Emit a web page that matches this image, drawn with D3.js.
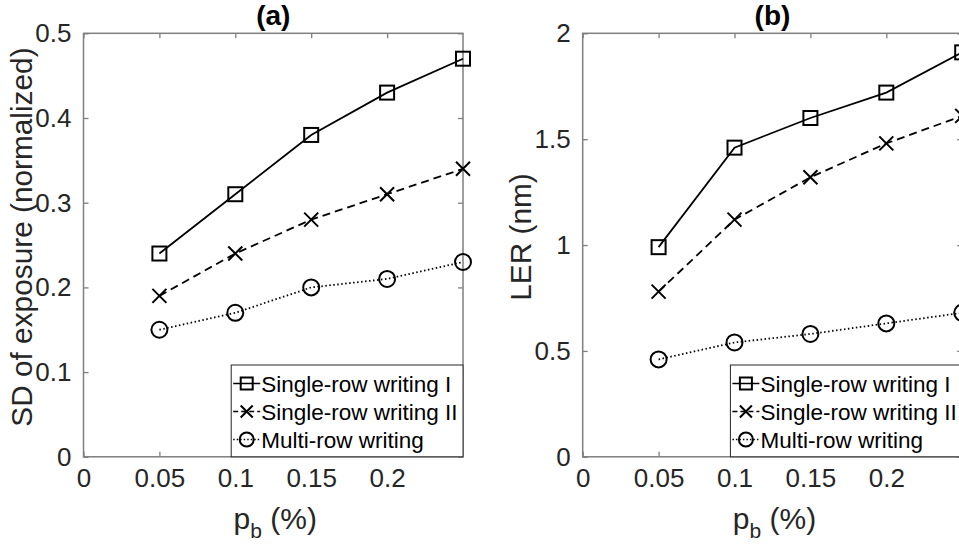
<!DOCTYPE html>
<html><head><meta charset="utf-8">
<script src="https://cdn.jsdelivr.net/npm/d3@7"></script>
<style>body{margin:0;background:#fff}svg{display:block}text{font-family:"Liberation Sans",Arial,sans-serif}</style>
</head><body>
<svg id="c" width="959" height="546"></svg>
<script>
const pb = [0.05, 0.1, 0.15, 0.2, 0.25];
const xTicks = [0, 0.05, 0.1, 0.15, 0.2];
const seriesNames = ["Single-row writing I", "Single-row writing II", "Multi-row writing"];
const sdSingleI = [0.24, 0.31, 0.38, 0.43, 0.47];
const sdSingleII = [0.19, 0.24, 0.28, 0.31, 0.34];
const sdMulti = [0.15, 0.17, 0.20, 0.21, 0.23];
const sdTicks = [0, 0.1, 0.2, 0.3, 0.4, 0.5];
const lerSingleI = [0.99, 1.46, 1.60, 1.72, 1.91];
const lerSingleII = [0.78, 1.12, 1.32, 1.48, 1.61];
const lerMulti = [0.46, 0.54, 0.58, 0.63, 0.68];
const lerTicks = [0, 0.5, 1, 1.5, 2];

const svg = d3.select("#c");
const styles = [
  {dash: null, marker: "square"},
  {dash: "8,5", marker: "x"},
  {dash: "1.5,2.5", marker: "circle"}
];
const axColor = "#7f7f7f", txtColor = "#262626";

function drawMarker(g, type, x, y, s) {
  if (type === "square") {
    g.append("rect").attr("x", x - s/2).attr("y", y - s/2).attr("width", s).attr("height", s)
      .attr("fill", "none").attr("stroke", "#000").attr("stroke-width", 2);
  } else if (type === "circle") {
    g.append("circle").attr("cx", x).attr("cy", y).attr("r", s/2 + 1)
      .attr("fill", "none").attr("stroke", "#000").attr("stroke-width", 2);
  } else {
    const h = s/2;
    g.append("path").attr("d", `M${x-h},${y-h}L${x+h},${y+h}M${x-h},${y+h}L${x+h},${y-h}`)
      .attr("stroke", "#000").attr("stroke-width", 2).attr("fill", "none");
  }
}

function panel(left, title, ylabel, yMax, yTicks, series) {
  const W = 379.5, top = 33.3, bottom = 456.8;
  const x = d3.scaleLinear().domain([0, 0.25]).range([left, left + W]);
  const y = d3.scaleLinear().domain([0, yMax]).range([bottom, top]);
  const g = svg.append("g");

  const fmt = d => d3.format("")(+d.toFixed(3));
  const axB = g.append("g").attr("transform", `translate(0,${bottom})`)
    .call(d3.axisBottom(x).tickValues(xTicks).tickSize(-5).tickPadding(12).tickFormat(fmt));
  const axT = g.append("g").attr("transform", `translate(0,${top})`)
    .call(d3.axisTop(x).tickValues(xTicks).tickSize(-5).tickFormat(""));
  const axL = g.append("g").attr("transform", `translate(${left},0)`)
    .call(d3.axisLeft(y).tickValues(yTicks).tickSize(-5).tickPadding(12).tickFormat(fmt));
  const axR = g.append("g").attr("transform", `translate(${left + W},0)`)
    .call(d3.axisRight(y).tickValues(yTicks).tickSize(-5).tickFormat(""));
  [axB, axT, axL, axR].forEach(a => {
    a.select(".domain").remove();
    a.selectAll(".tick line").attr("stroke", axColor).attr("stroke-width", 1.3);
    a.selectAll("text").attr("fill", txtColor).style("font-size", "26px");
  });
  axB.selectAll("text").attr("dy", "0.71em");
  g.append("rect").attr("x", left).attr("y", top).attr("width", W).attr("height", bottom - top)
    .attr("fill", "none").attr("stroke", axColor).attr("stroke-width", 1.5);

  series.forEach((vals, i) => {
    const st = styles[i];
    const line = d3.line().x((d, j) => x(pb[j])).y(d => y(d));
    g.append("path").datum(vals).attr("d", line).attr("fill", "none")
      .attr("stroke", "#000").attr("stroke-width", 1.8)
      .attr("stroke-dasharray", st.dash);
    vals.forEach((v, j) => drawMarker(g, st.marker, x(pb[j]), y(v), 14));
  });

  g.append("text").attr("x", left + W/2).attr("y", 25).attr("text-anchor", "middle")
    .style("font-size", "28px").style("font-weight", "bold").attr("fill", "#000").text(title);
  const xl = g.append("text").attr("x", left + W/2 + 2).attr("y", 529).attr("text-anchor", "middle")
    .style("font-size", "30px").attr("fill", txtColor);
  xl.append("tspan").text("p");
  xl.append("tspan").attr("dy", 9).style("font-size", "21px").text("b");
  xl.append("tspan").attr("dy", -9).text(" (%)");
  g.append("text").attr("transform", `translate(${left - 52},${(top + bottom)/2 - 8}) rotate(-90)`)
    .attr("text-anchor", "middle").style("font-size", "29.8px").attr("fill", txtColor).text(ylabel);

  const lw = 231.8, lh = 91.8;
  const lx = left + W - lw, ly = bottom - lh;
  const lg = g.append("g");
  lg.append("rect").attr("x", lx).attr("y", ly).attr("width", lw).attr("height", lh)
    .attr("fill", "#fff").attr("stroke", "#262626").attr("stroke-width", 1);
  seriesNames.forEach((name, i) => {
    const cy = ly + 18.5 + i * 28;
    lg.append("line").attr("x1", lx + 2).attr("x2", lx + 29).attr("y1", cy).attr("y2", cy)
      .attr("stroke", "#000").attr("stroke-width", 1.5).attr("stroke-dasharray", styles[i].dash ? (i === 1 ? "5,3" : "1.5,2") : null);
    drawMarker(lg, styles[i].marker, lx + 15.5, cy, 12);
    lg.append("text").attr("x", lx + 30).attr("y", cy).attr("dy", "0.36em")
      .style("font-size", "22.5px").attr("fill", "#000").text(name);
  });
}

panel(83.5, "(a)", "SD of exposure (normalized)", 0.5, sdTicks, [sdSingleI, sdSingleII, sdMulti]);
panel(582.7, "(b)", "LER (nm)", 2, lerTicks, [lerSingleI, lerSingleII, lerMulti]);
</script>
</body></html>
